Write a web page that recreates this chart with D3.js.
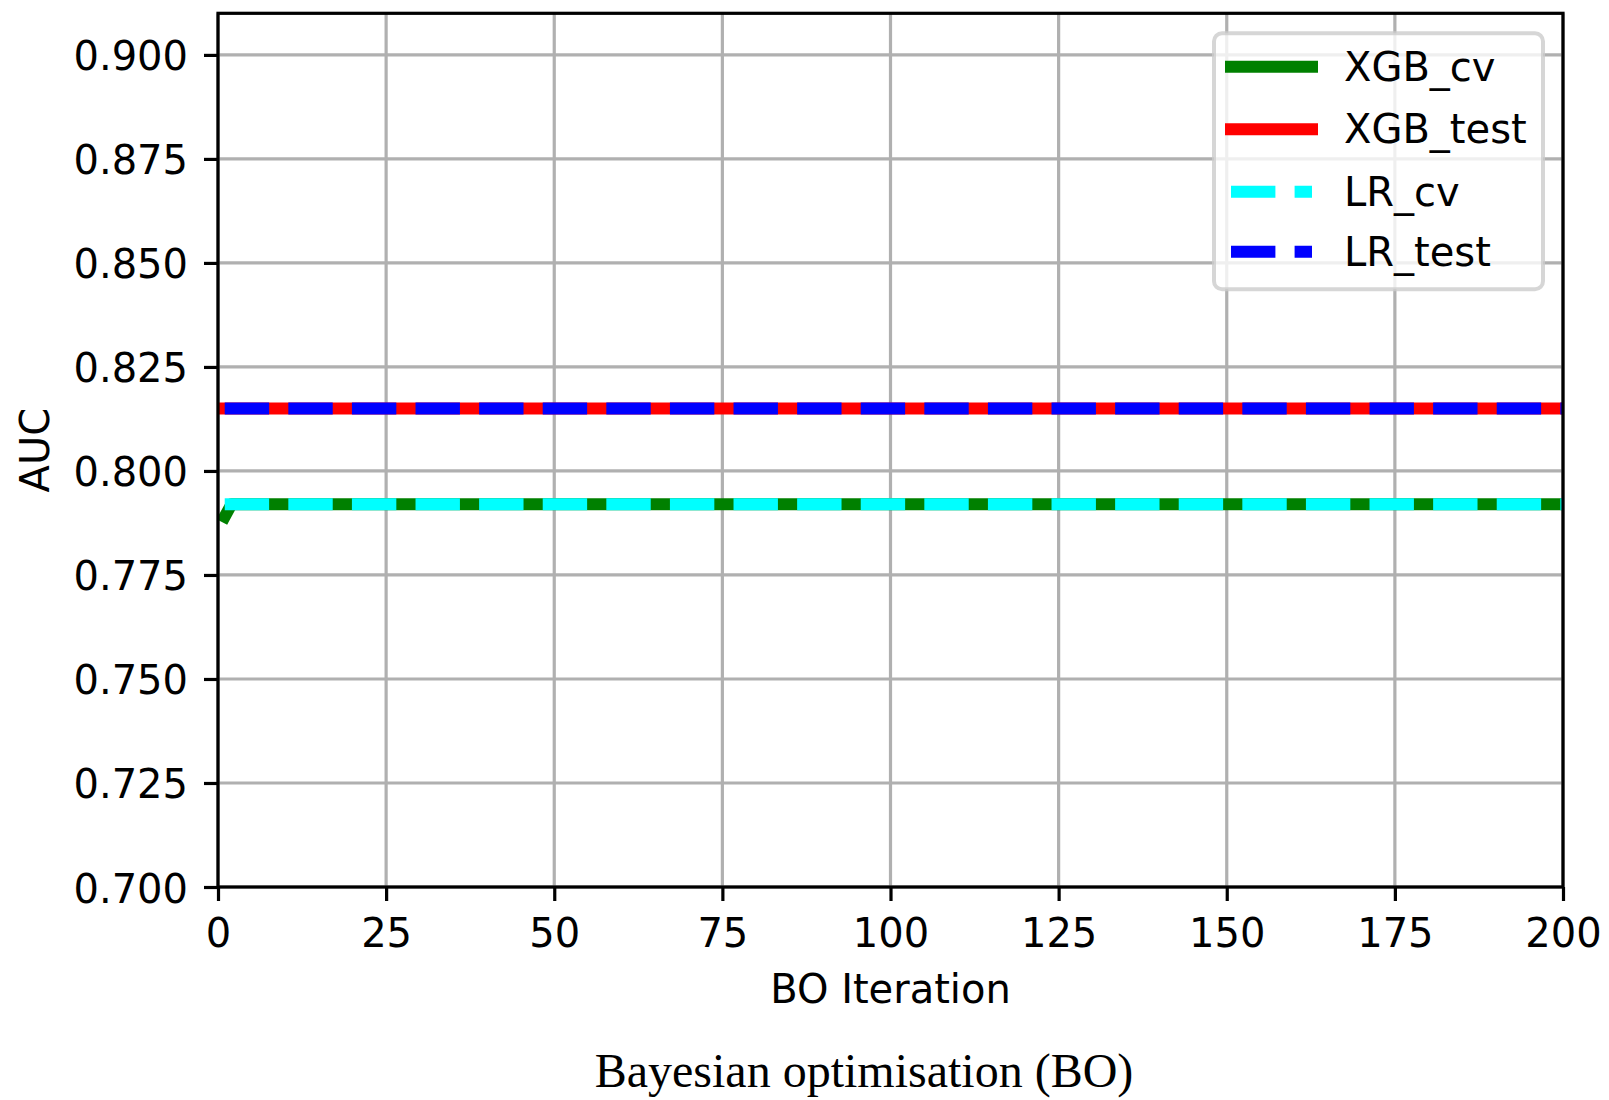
<!DOCTYPE html>
<html>
<head>
<meta charset="utf-8">
<script src="https://cdn.jsdelivr.net/npm/d3@7"></script>
<style>
  body { margin: 0; background: #fff; }
  svg text { font-family: "DejaVu Sans", sans-serif; }
</style>
</head>
<body>
<div id="chart"></div>
<script>
// values (iteration, AUC)
var seriesNames = ["XGB_cv", "XGB_test", "LR_cv", "LR_test"];
var seriesColors = ["#008000", "#ff0000", "#00ffff", "#0000ff"];
var seriesDashed = [false, false, true, true];
var xgbCv   = [[1, 0.789], [2, 0.792], [200, 0.792]];
var xgbTest = [[1, 0.815], [200, 0.815]];
var lrCv    = [[1, 0.792], [200, 0.792]];
var lrTest  = [[1, 0.815], [200, 0.815]];
var xTicks = [0, 25, 50, 75, 100, 125, 150, 175, 200];
var yTicks = [0.700, 0.725, 0.750, 0.775, 0.800, 0.825, 0.850, 0.875, 0.900];

var W = 1609, H = 1100;
var plotL = 218, plotR = 1563, plotT = 13.3, plotB = 887;
var lw = 12;

var svg = d3.select("#chart").append("svg")
    .attr("width", W).attr("height", H);

var x = d3.scaleLinear().domain([0, 200]).range([plotL, plotR]);
var y = d3.scaleLinear().domain([0.7, 0.91]).range([plotB, plotT]);

svg.append("defs").append("clipPath").attr("id", "plotclip")
  .append("rect")
    .attr("x", plotL).attr("y", plotT)
    .attr("width", plotR - plotL).attr("height", plotB - plotT);

// grid
var grid = svg.append("g").attr("class", "grid");
grid.selectAll(".gx").data(xTicks).enter().append("line")
    .attr("x1", function(d) { return x(d); }).attr("x2", function(d) { return x(d); })
    .attr("y1", plotT).attr("y2", plotB)
    .attr("stroke", "#b0b0b0").attr("stroke-width", 3.2);
grid.selectAll(".gy").data(yTicks).enter().append("line")
    .attr("x1", plotL).attr("x2", plotR)
    .attr("y1", function(d) { return y(d); }).attr("y2", function(d) { return y(d); })
    .attr("stroke", "#b0b0b0").attr("stroke-width", 3.2);

// lines
var line = d3.line().x(function(d) { return x(d[0]); }).y(function(d) { return y(d[1]); });
var allSeries = [xgbCv, xgbTest, lrCv, lrTest];
var lines = svg.append("g").attr("clip-path", "url(#plotclip)");
allSeries.forEach(function(s, i) {
    lines.append("path")
        .attr("d", line(s))
        .attr("fill", "none")
        .attr("stroke", seriesColors[i])
        .attr("stroke-width", lw)
        .attr("stroke-linejoin", "round")
        .attr("stroke-linecap", seriesDashed[i] ? "butt" : "square")
        .attr("stroke-dasharray", seriesDashed[i] ? (3.7 * lw) + "," + (1.6 * lw) : null);
});

// axes
var xAxis = d3.axisBottom(x).tickValues(xTicks).tickSize(14).tickPadding(14).tickFormat(d3.format("d"));
var yAxis = d3.axisLeft(y).tickValues(yTicks).tickSize(14).tickPadding(14).tickFormat(d3.format(".3f"));

var gx = svg.append("g").attr("transform", "translate(0," + plotB + ")").call(xAxis);
var gy = svg.append("g").attr("transform", "translate(" + plotL + ",0)").call(yAxis);
[gx, gy].forEach(function(g) {
    g.select(".domain").remove();
    g.selectAll(".tick line").attr("stroke", "#000").attr("stroke-width", 3.2);
    g.selectAll(".tick text").attr("font-size", 40).attr("fill", "#000")
        .attr("font-family", "DejaVu Sans");
});
gx.selectAll(".tick text").attr("dy", null).attr("y", 60);
gy.selectAll(".tick text").attr("dy", null).attr("x", -30).attr("y", 15);

// spines
svg.append("rect")
    .attr("x", plotL).attr("y", plotT)
    .attr("width", plotR - plotL).attr("height", plotB - plotT)
    .attr("fill", "none").attr("stroke", "#000").attr("stroke-width", 3.2);

// axis labels
svg.append("text")
    .attr("x", (plotL + plotR) / 2).attr("y", 1003)
    .attr("text-anchor", "middle").attr("font-size", 40)
    .text("BO Iteration");
svg.append("text")
    .attr("transform", "translate(49," + ((plotT + plotB) / 2) + ") rotate(-90)")
    .attr("text-anchor", "middle").attr("font-size", 40)
    .text("AUC");

// legend
var legend = svg.append("g");
var lgX = 1214, lgY = 33.3, lgW = 329, lgH = 256;
legend.append("rect")
    .attr("x", lgX).attr("y", lgY).attr("width", lgW).attr("height", lgH)
    .attr("rx", 8).attr("ry", 8)
    .attr("fill", "rgba(255,255,255,0.8)")
    .attr("stroke", "rgba(204,204,204,0.8)").attr("stroke-width", 4);
var rowY = [66.7, 129.3, 191.7, 251.7];
seriesNames.forEach(function(name, i) {
    legend.append("line")
        .attr("x1", 1231).attr("x2", 1312)
        .attr("y1", rowY[i]).attr("y2", rowY[i])
        .attr("stroke", seriesColors[i]).attr("stroke-width", lw)
        .attr("stroke-linecap", seriesDashed[i] ? "butt" : "square")
        .attr("stroke-dasharray", seriesDashed[i] ? (3.7 * lw) + "," + (1.6 * lw) : null);
    legend.append("text")
        .attr("x", 1344).attr("y", rowY[i] + 14)
        .attr("font-size", 40)
        .text(name);
});

// caption
svg.append("text")
    .attr("x", 864).attr("y", 1087)
    .attr("text-anchor", "middle")
    .attr("font-size", 48)
    .style("font-family", "'Liberation Serif', 'Times New Roman', serif")
    .text("Bayesian optimisation (BO)");
</script>
</body>
</html>
